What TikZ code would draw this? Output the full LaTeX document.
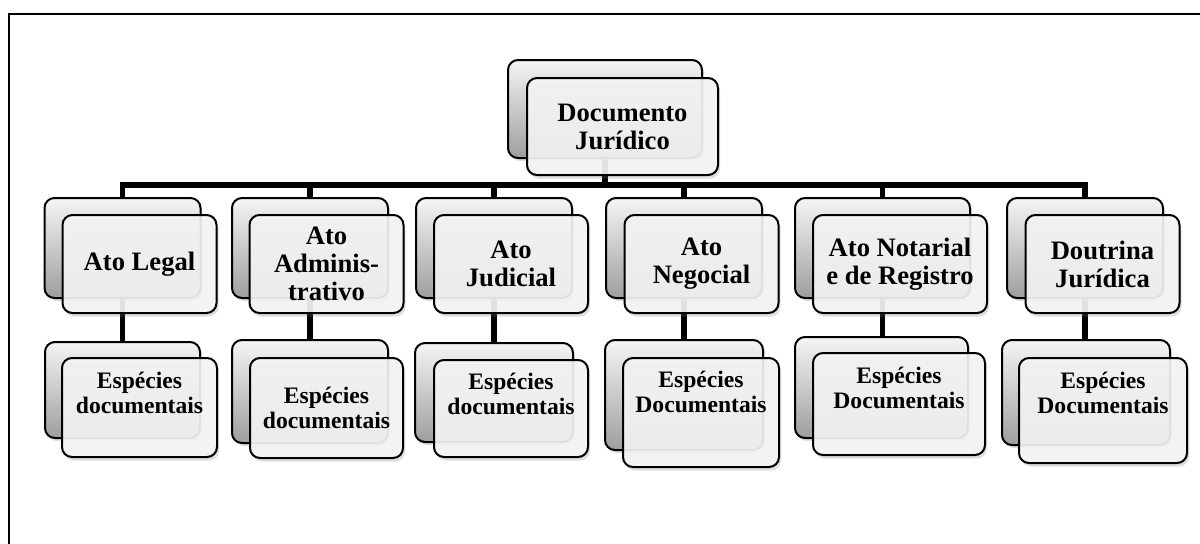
\documentclass[tikz,border=0pt]{standalone}
\usepackage{fontspec}
\setmainfont{Liberation Serif}
\usetikzlibrary{positioning,shadows,backgrounds}
\definecolor{backgrey}{RGB}{158,158,158}
\definecolor{frontgrey}{RGB}{245,245,245}

\begin{document}
\begin{tikzpicture}[x=0.5pt,y=-0.5pt,
  conn/.style={line width=2.8pt},
  back/.style={draw,line width=1pt,rounded corners=5pt,top color=white!96!black,bottom color=backgrey,
    drop shadow={shadow xshift=1pt,shadow yshift=-1.5pt,opacity=0.25}},
  front/.style={draw,line width=1pt,rounded corners=5pt,fill=frontgrey,fill opacity=0.9,text opacity=1,
    align=center,inner sep=1pt,font=\bfseries\fontsize{13.3}{14}\selectfont,
    drop shadow={shadow xshift=1pt,shadow yshift=-1.8pt,opacity=0.25}},
  lvl/.style={back,minimum width=78pt,minimum height=50pt},
  lvlf/.style={front,minimum width=77pt,minimum height=49pt},
  sub/.style={front,font=\bfseries\fontsize{11.8}{12.5}\selectfont,text depth=10pt,text height=#1},
  sub/.default=15.5pt]
\useasboundingbox (0,0) rectangle (1200,543);
\begin{scope}
\clip (0,0) rectangle (1200,543);
\draw[line width=1.3pt] (9,14) rectangle (1240,600);
\end{scope}
% top
\node[back,minimum width=97pt,minimum height=49pt] (docb) at (605,109) {};
\node[front,minimum width=95.5pt,minimum height=48.5pt] (doc) at (622.5,126.5) {Documento\\Jurídico};
% first level
\node[lvl] (legalb) at (122.5,248) {};
\node[lvlf] (legal) at (139.5,264) {Ato Legal};
\node[lvl] (admb) at (310,248) {};
\node[lvlf] (adm) at (326.5,264) {Ato\\Adminis-\\trativo};
\node[lvl] (judb) at (494,248) {};
\node[lvlf] (jud) at (511,264) {Ato\\Judicial};
\node[lvl] (negb) at (684,248) {};
\node[lvlf] (neg) at (701.5,264) {Ato\\Negocial};
\node[lvl,minimum width=87.5pt] (notb) at (882.5,248) {};
\node[lvlf,minimum width=87pt] (not) at (900,264) {Ato Notarial\\e de Registro};
\node[lvl] (doutb) at (1085,248) {};
\node[lvlf] (dout) at (1102.5,264) {Doutrina\\Jurídica};
% second level
\node[back,minimum width=77.5pt,minimum height=48pt] (legalsb) at (122.5,390) {};
\node[sub,minimum width=77.5pt,minimum height=49.5pt] (legals) at (139.5,407.5) {Espécies\\documentais};
\node[back,minimum width=78pt,minimum height=51.5pt] (admsb) at (310,391.5) {};
\node[sub=30pt,minimum width=76.5pt,minimum height=50pt] (adms) at (326.5,408) {Espécies\\documentais};
\node[back,minimum width=79pt,minimum height=49.5pt] (judsb) at (494,392.5) {};
\node[sub=16pt,minimum width=77pt,minimum height=48.5pt] (juds) at (511,408.5) {Espécies\\documentais};
\node[back,minimum width=79pt,minimum height=55pt] (negsb) at (684,395) {};
\node[sub=10pt,minimum width=78pt,minimum height=54.5pt] (negs) at (701,412.5) {Espécies\\Documentais};
\node[back,minimum width=86.5pt,minimum height=50.5pt] (notsb) at (881.5,387.5) {};
\node[sub=14pt,minimum width=86pt,minimum height=51pt] (nots) at (899,404) {Espécies\\Documentais};
\node[back,minimum width=84pt,minimum height=52.5pt] (doutsb) at (1086,392.5) {};
\node[sub=13pt,minimum width=84pt,minimum height=52.5pt] (douts) at (1103,410.5) {Espécies\\Documentais};
% connectors
\begin{scope}[on background layer]
\coordinate (bar) at (605,185);
\draw[conn] (docb.south) -- (bar);
\draw[conn] (legalb.north) |- (bar) -| (doutb.north);
\foreach \n in {admb,judb,negb,notb}
  \draw[conn] (\n.north) -- (\n.north |- bar);
\foreach \n in {legal,adm,jud,neg,not,dout}
  \draw[conn] (\n b.south) -- (\n b.south |- \n sb.north);
\end{scope}
\end{tikzpicture}
\end{document}
